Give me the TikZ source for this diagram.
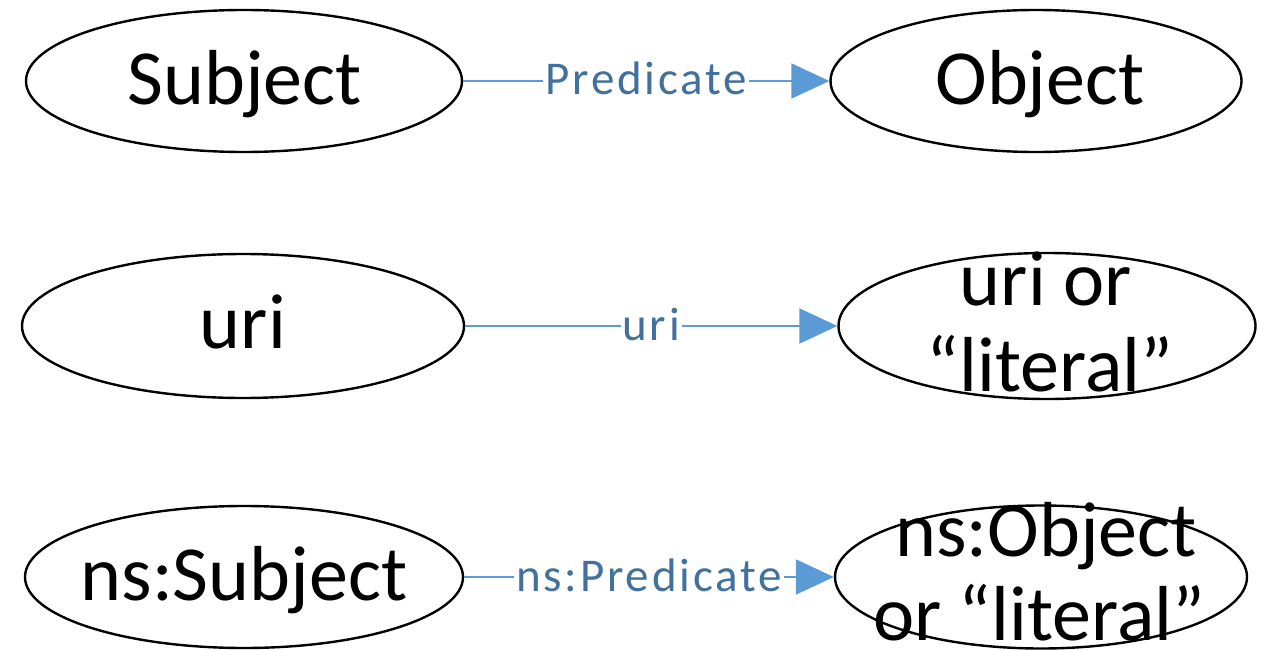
\documentclass[tikz,border=0pt]{standalone}
\usepackage{fontspec}
\setmainfont{Carlito}
\newfontfamily\labelfont[LetterSpace=6]{Carlito}
\usetikzlibrary{arrows.meta,shapes.geometric}
\definecolor{edgeblue}{HTML}{5B9BD5}
\definecolor{labelblue}{HTML}{41719C}

\begin{document}
\begin{tikzpicture}[x=1pt,y=-1pt,
  term/.style={draw=black, line width=2.4pt, ellipse, inner sep=0pt},
  termtext/.style={anchor=base, inner sep=0pt, font=\fontsize{78}{88}\selectfont},
  link/.style={draw=edgeblue, line width=2.2pt, -{Triangle[length=38pt,width=35pt]}},
  edgelabel/.style={anchor=base, fill=white, text=labelblue, inner xsep=2pt, inner ysep=0pt,
                    font=\labelfont\fontsize{47}{52}\selectfont}]
  \useasboundingbox (0,0) rectangle (1266,650);

  % generic triple
  \node[term, minimum width=436pt, minimum height=142pt] (s1) at (244,81) {};
  \node[term, minimum width=411pt, minimum height=142pt] (o1) at (1036,81) {};
  \node[termtext] (s1t) at (244.5,105) {Subject};
  \node[termtext] (o1t) at (1040,105) {Object};
  \draw[link] (s1) -- (o1)
    node[edgelabel, midway, yshift=-14pt] (p1) {Predicate};

  % uri form
  \node[term, minimum width=442pt, minimum height=144pt] (s2) at (243,326) {};
  \node[term, minimum width=417pt, minimum height=146pt] (o2) at (1047,326) {};
  \node[termtext] (s2t) at (243,348) {uri};
  \node[termtext] (o2a) at (1046,305) {uri or};
  \node[termtext] (o2b) at (1050,391) {“literal”};
  \draw[link] (s2) -- (o2)
    node[edgelabel, midway, yshift=-14pt] (p2) {uri};

  % namespaced form
  \node[term, minimum width=438pt, minimum height=142pt] (s3) at (244,577) {};
  \node[term, minimum width=412pt, minimum height=143pt] (o3) at (1041,577) {};
  \node[termtext] (s3t) at (244,600) {ns:Subject};
  \node[termtext] (o3a) at (1046,556) {ns:Object};
  \node[termtext] (o3b) at (1039,640) {or “literal”};
  \draw[link] (s3) -- (o3)
    node[edgelabel, midway, yshift=-14pt] (p3) {ns:Predicate};
\end{tikzpicture}
\end{document}
